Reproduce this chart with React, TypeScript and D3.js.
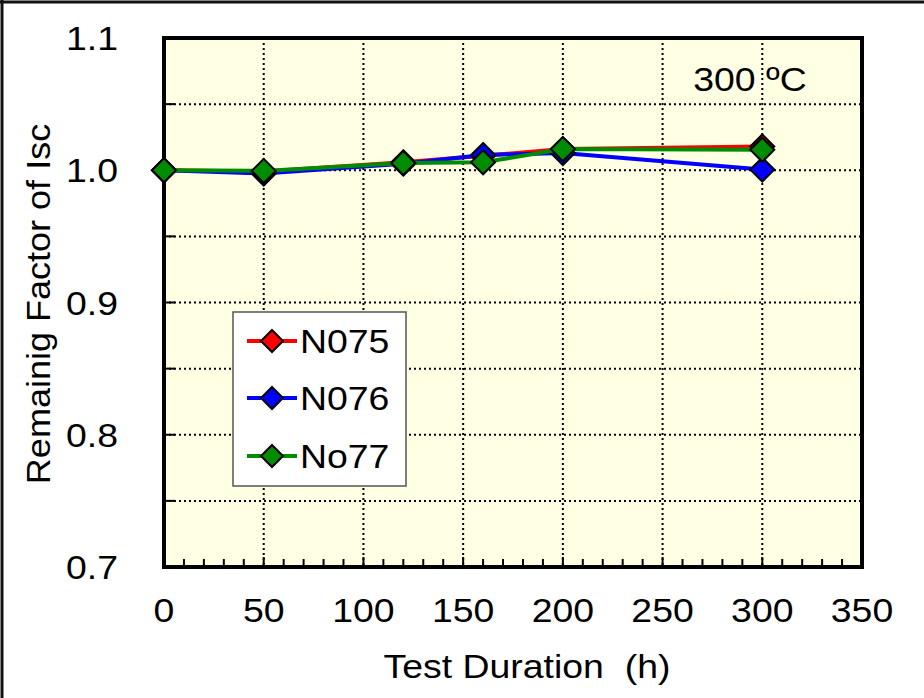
import React from "react";
import * as d3 from "d3";

const hours = [0, 50, 120, 160, 200, 300];
const n075 = [1.0, 0.999, 1.006, 1.011, 1.016, 1.018];
const n076 = [1.0, 0.9975, 1.005, 1.0115, 1.013, 1.0005];
const no77 = [1.0, 0.9995, 1.0055, 1.006, 1.016, 1.0155];
const seriesNames = ["N075", "N076", "No77"];
const seriesColors = ["#ff0000", "#0000ff", "#008c00"];
const xTicks = [0, 50, 100, 150, 200, 250, 300, 350];
const yTicks = [0.7, 0.8, 0.9, 1.0, 1.1];

const W = 924, H = 698;
const L = 164, R = 862, T = 38, B = 567;
const FONT = "Arial, 'Liberation Sans', sans-serif";
const SX = 1.1;

function T2({ x, y, anchor = "start", size = 34, children, dy = "0" }: any) {
  return (
    <text
      transform={`translate(${x},${y}) scale(${SX},1)`}
      textAnchor={anchor}
      fontSize={size}
      dy={dy}
      fill="#000"
      style={{ whiteSpace: "pre" }}
    >
      {children}
    </text>
  );
}

export default function App() {
  const x = d3.scaleLinear().domain([0, 350]).range([L, R]);
  const y = d3.scaleLinear().domain([0.7, 1.1]).range([B, T]);
  const series = [n075, n076, no77];
  const line = d3.line<number>().x((_, i) => x(hours[i])).y((d) => y(d));
  const diamond = (cx: number, cy: number, r: number) =>
    `M${cx},${cy - r}L${cx + r},${cy}L${cx},${cy + r}L${cx - r},${cy}Z`;
  const yGrid = d3.range(0.75, 1.1, 0.05);
  const xGrid = d3.range(50, 350, 50);
  const xMinor = d3.range(10, 350, 10).filter((v) => v % 50 !== 0);
  const legendY = [341, 398, 456];

  return (
    <div style={{ position: "fixed", left: 0, top: 0, width: W, height: H, background: "#fff" }}>
      <svg width={W} height={H} style={{ display: "block" }} fontFamily={FONT}>
        <rect x={0} y={0} width={W} height={H} fill="#fff" />
        <line x1={0} y1={2} x2={W} y2={2} stroke="#111" strokeWidth={3} />
        <line x1={2} y1={0} x2={2} y2={H} stroke="#111" strokeWidth={3} />
        <rect x={L} y={T} width={R - L} height={B - T} fill="#ffffe4" />
        {yGrid.map((v, i) => (
          <g key={"yg" + i}>
            <line x1={L} x2={R} y1={y(v)} y2={y(v)} stroke="#000" strokeWidth={2} strokeDasharray="2,3" />
            <line x1={L} x2={L + 11} y1={y(v)} y2={y(v)} stroke="#000" strokeWidth={2} />
          </g>
        ))}
        {xGrid.map((v, i) => (
          <line key={"xg" + i} x1={x(v)} x2={x(v)} y1={T} y2={B} stroke="#000" strokeWidth={2} strokeDasharray="2,3" />
        ))}
        {xGrid.map((v, i) => (
          <line key={"xt" + i} x1={x(v)} x2={x(v)} y1={B - 10} y2={B} stroke="#000" strokeWidth={2} />
        ))}
        {xMinor.map((v, i) => (
          <line key={"xm" + i} x1={x(v)} x2={x(v)} y1={B - 8} y2={B} stroke="#000" strokeWidth={2} />
        ))}
        <rect x={L} y={T} width={R - L} height={B - T} fill="none" stroke="#000" strokeWidth={4} />
        {yTicks.map((v, i) => (
          <T2 key={"yl" + i} x={118} y={y(v)} dy="0.36em" anchor="end">
            {v.toFixed(1)}
          </T2>
        ))}
        {xTicks.map((v, i) => (
          <T2 key={"xl" + i} x={x(v)} y={622} anchor="middle">
            {v}
          </T2>
        ))}
        <T2 x={527} y={678} anchor="middle">{"Test Duration\u00A0\u00A0(h)"}</T2>
        <text
          transform={`translate(50,304) rotate(-90) scale(1.06,1)`}
          textAnchor="middle"
          fontSize={34}
          fill="#000"
        >
          Remainig Factor of Isc
        </text>
        <T2 x={750} y={91} anchor="middle">300 ºC</T2>
        {series.map((s, k) => (
          <g key={"s" + k}>
            <path d={line(s) || ""} fill="none" stroke={seriesColors[k]} strokeWidth={4} />
            {s.map((v, i) => (
              <path key={i} d={diamond(x(hours[i]), y(v), 12)} fill={seriesColors[k]} stroke="#000" strokeWidth={2} />
            ))}
          </g>
        ))}
        <rect x={233} y={312} width={173} height={174} fill="#fff" stroke="#555" strokeWidth={1.5} />
        {seriesNames.map((n, k) => (
          <g key={"lg" + k}>
            <line x1={247} x2={297} y1={legendY[k]} y2={legendY[k]} stroke={seriesColors[k]} strokeWidth={4} />
            <path d={diamond(272, legendY[k], 11)} fill={seriesColors[k]} stroke="#000" strokeWidth={2} />
            <T2 x={300} y={legendY[k]} dy="0.36em">{n}</T2>
          </g>
        ))}
      </svg>
    </div>
  );
}
